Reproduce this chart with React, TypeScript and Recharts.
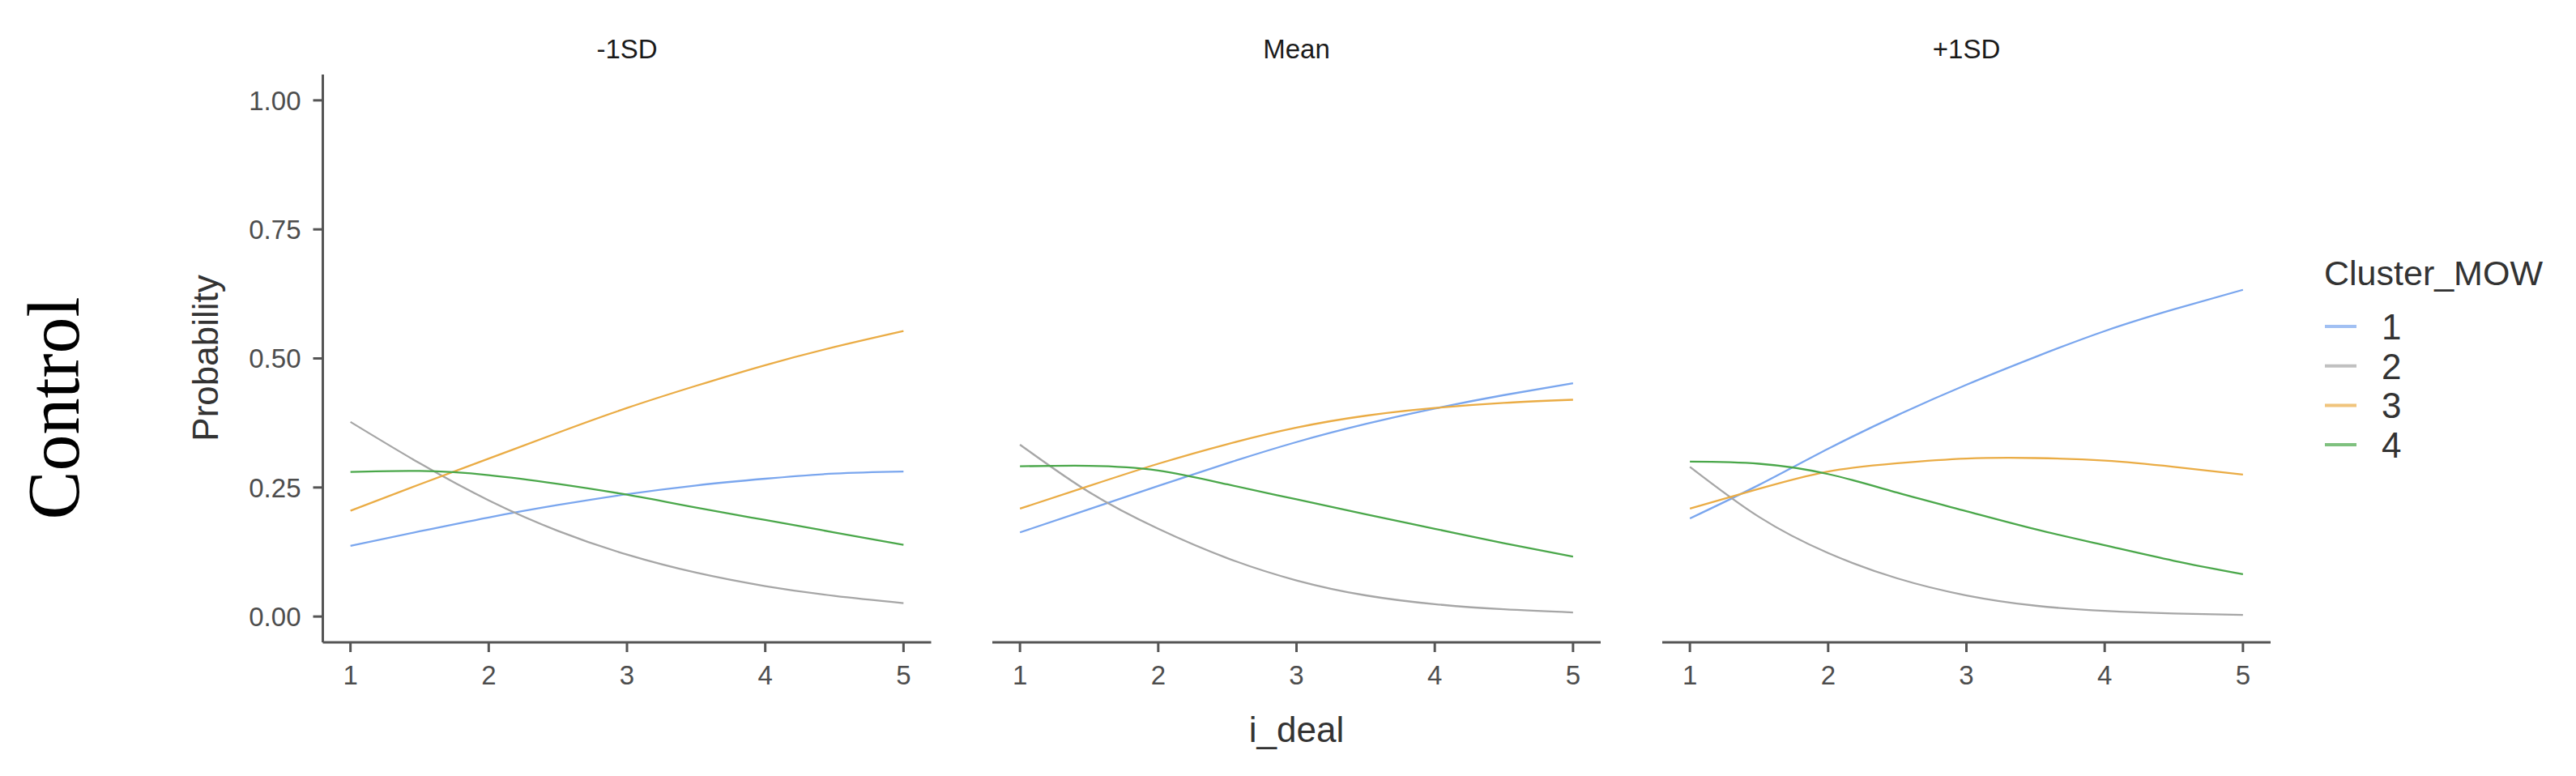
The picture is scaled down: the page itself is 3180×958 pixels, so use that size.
import { LineChart, Line, XAxis, YAxis } from "recharts"

// i_deal values the curves were read at
const iDeal = [1, 1.5, 2, 2.5, 3, 3.5, 4, 4.5, 5]
const clusters = ["1", "2", "3", "4"]
const panelLabels = ["-1SD", "Mean", "+1SD"]
const xTicks = [1, 2, 3, 4, 5]
const yTicks = [0, 0.25, 0.5, 0.75, 1]

// -1SD
const low1 = [0.137, 0.165, 0.192, 0.216, 0.237, 0.254, 0.267, 0.277, 0.281]
const low2 = [0.377, 0.297, 0.225, 0.166, 0.12, 0.085, 0.059, 0.04, 0.026]
const low3 = [0.205, 0.256, 0.306, 0.356, 0.404, 0.447, 0.487, 0.522, 0.553]
const low4 = [0.28, 0.282, 0.274, 0.257, 0.236, 0.211, 0.187, 0.163, 0.139]

// Mean
const mid1 = [0.163, 0.208, 0.253, 0.297, 0.338, 0.373, 0.403, 0.429, 0.452]
const mid2 = [0.333, 0.241, 0.17, 0.113, 0.07, 0.041, 0.024, 0.014, 0.008]
const mid3 = [0.209, 0.253, 0.296, 0.334, 0.366, 0.389, 0.404, 0.414, 0.42]
const mid4 = [0.291, 0.292, 0.283, 0.256, 0.227, 0.198, 0.17, 0.142, 0.116]

// +1SD
const high1 = [0.19, 0.255, 0.325, 0.39, 0.449, 0.503, 0.553, 0.595, 0.633]
const high2 = [0.29, 0.193, 0.123, 0.074, 0.041, 0.021, 0.011, 0.006, 0.003]
const high3 = [0.209, 0.2475, 0.281, 0.297, 0.306, 0.307, 0.302, 0.29, 0.275]
const high4 = [0.3, 0.296, 0.276, 0.24, 0.204, 0.169, 0.138, 0.108, 0.082]

const COLORS = ["#7aa6ee", "#a6a6a6", "#eaac45", "#4aa74a"]

const SANS = "'Liberation Sans', Arial, sans-serif"
const AXIS = "#555555"

const PLOT_TOP = 92
const PLOT_BOTTOM = 793
const PLOT_W = 751
const PLOT_LEFTS = [398.5, 1225, 2052]
const X_AXIS_H = 60

function toRows(series: number[][]) {
  return iDeal.map((x, i) => {
    const row: Record<string, number> = { x }
    clusters.forEach((c, k) => {
      row[`c${c}`] = series[k][i]
    })
    return row
  })
}

const panelData = [
  toRows([low1, low2, low3, low4]),
  toRows([mid1, mid2, mid3, mid4]),
  toRows([high1, high2, high3, high4]),
]

function Panel({ index }: { index: number }) {
  const first = index === 0
  const plotLeft = PLOT_LEFTS[index]
  const chartLeft = first ? 0 : plotLeft - 10
  const leftPad = first ? 0 : 10
  const width = plotLeft - chartLeft + PLOT_W + 10
  return (
    <div style={{ position: "absolute", left: chartLeft, top: 0 }}>
      <LineChart
        width={width}
        height={958}
        data={panelData[index]}
        margin={{ top: PLOT_TOP, right: 10, bottom: 958 - PLOT_BOTTOM - X_AXIS_H, left: leftPad }}
      >
        <XAxis
          type="number"
          dataKey="x"
          domain={[0.8, 5.2]}
          ticks={xTicks}
          allowDataOverflow
          height={X_AXIS_H}
          tickSize={12}
          tickMargin={17}
          axisLine={{ stroke: AXIS, strokeWidth: 3 }}
          tickLine={{ stroke: AXIS, strokeWidth: 3 }}
          tick={{ fill: "#4d4d4d", fontSize: 33, fontFamily: SANS }}
        />
        {first ? (
          <YAxis
            type="number"
            domain={[-0.05, 1.05]}
            ticks={yTicks}
            allowDataOverflow
            width={plotLeft}
            tickSize={12}
            tickMargin={15}
            tickFormatter={(v: number) => v.toFixed(2)}
            axisLine={{ stroke: AXIS, strokeWidth: 3 }}
            tickLine={{ stroke: AXIS, strokeWidth: 3 }}
            tick={{ fill: "#4d4d4d", fontSize: 33, fontFamily: SANS }}
          />
        ) : (
          <YAxis type="number" domain={[-0.05, 1.05]} allowDataOverflow hide />
        )}
        {clusters.map((c, k) => (
          <Line
            key={c}
            type="natural"
            dataKey={`c${c}`}
            stroke={COLORS[k]}
            strokeWidth={2.3}
            dot={false}
            isAnimationActive={false}
          />
        ))}
      </LineChart>
    </div>
  )
}

export default function App() {
  return (
    <div style={{ position: "absolute", left: 0, top: 0, width: 3180, height: 958, background: "#fff", fontFamily: SANS }}>
      {panelLabels.map((_, i) => (
        <Panel key={i} index={i} />
      ))}
      <svg width={3180} height={958} style={{ position: "absolute", left: 0, top: 0, pointerEvents: "none" }}>
        {panelLabels.map((label, i) => (
          <text key={label} x={PLOT_LEFTS[i] + PLOT_W / 2} y={72} textAnchor="middle" fontSize={33} fill="#1a1a1a" fontFamily={SANS}>
            {label}
          </text>
        ))}
        <text x={PLOT_LEFTS[1] + PLOT_W / 2} y={916} textAnchor="middle" fontSize={44} fill="#333" fontFamily={SANS}>
          i_deal
        </text>
        <text transform="translate(269, 442) rotate(-90)" textAnchor="middle" fontSize={44} fill="#333" fontFamily={SANS}>
          Probability
        </text>
        <text transform="translate(97, 504) rotate(-90)" textAnchor="middle" fontSize={90} fill="#000" fontFamily="'Liberation Serif', 'Times New Roman', serif">
          Control
        </text>
        <text x={2869} y={352} fontSize={43} fill="#333" fontFamily={SANS}>
          Cluster_MOW
        </text>
        {clusters.map((c, k) => (
          <g key={c}>
            <line x1={2870} x2={2909} y1={403 + k * 48.7} y2={403 + k * 48.7} stroke={COLORS[k]} strokeWidth={4} opacity={0.7} />
            <text x={2940} y={419 + k * 48.7} fontSize={44} fill="#333" fontFamily={SANS}>
              {c}
            </text>
          </g>
        ))}
      </svg>
    </div>
  )
}
